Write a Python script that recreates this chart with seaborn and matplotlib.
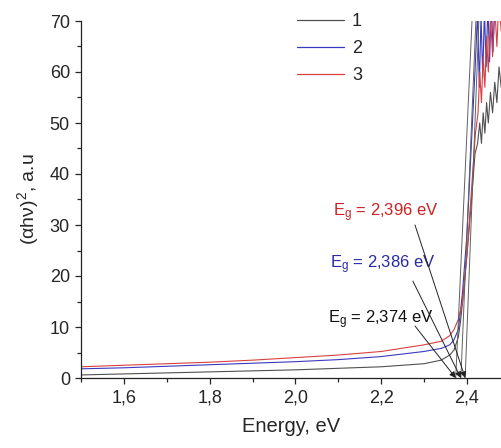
import matplotlib
matplotlib.use("Agg")
import matplotlib.pyplot as plt
import seaborn as sns
import pandas as pd
from matplotlib.ticker import MultipleLocator, FuncFormatter
from matplotlib.lines import Line2D

# ---- data ----
x1 = [1.50, 1.60, 1.70, 1.80, 1.90, 2.00, 2.10, 2.20, 2.30, 2.34, 2.36, 2.37, 2.38, 2.385, 2.39, 2.40, 2.41, 2.419,
      2.425, 2.43, 2.434, 2.438, 2.442, 2.446, 2.45, 2.455, 2.46, 2.465, 2.47, 2.475, 2.48, 2.485]
y1 = [0.6, 0.8, 1.0, 1.2, 1.4, 1.6, 1.9, 2.2, 2.8, 3.5, 4.5, 5.5, 8.0, 11.0, 15.0, 24.0, 34.0, 44.0,
      46.0, 50.0, 46.0, 52.0, 48.0, 54.0, 50.0, 56.0, 52.0, 58.0, 54.0, 61.0, 57.0, 63.0]

x2 = [1.50, 1.60, 1.70, 1.80, 1.90, 2.00, 2.10, 2.20, 2.30, 2.34, 2.36, 2.37, 2.38, 2.385, 2.39, 2.40, 2.41, 2.42,
      2.425, 2.429, 2.433, 2.437, 2.441, 2.445, 2.449, 2.453, 2.457, 2.461, 2.466]
y2 = [1.8, 2.0, 2.3, 2.6, 2.9, 3.2, 3.6, 4.2, 5.2, 5.8, 6.5, 7.5, 9.5, 13.0, 17.0, 28.0, 45.0, 62.0,
      72.0, 57.0, 71.0, 59.0, 72.0, 61.0, 73.0, 62.0, 74.0, 64.0, 75.0]

x3 = [1.50, 1.60, 1.70, 1.80, 1.90, 2.00, 2.10, 2.20, 2.30, 2.34, 2.36, 2.37, 2.38, 2.39, 2.40, 2.41, 2.42,
      2.426, 2.43, 2.434, 2.438, 2.442, 2.446, 2.45, 2.455, 2.46, 2.465, 2.47, 2.475, 2.48, 2.485]
y3 = [2.2, 2.5, 2.8, 3.1, 3.5, 4.0, 4.5, 5.2, 6.5, 7.2, 8.3, 9.5, 11.5, 15.0, 24.0, 36.0, 48.0,
      52.0, 60.0, 54.0, 63.0, 57.0, 67.0, 60.0, 71.0, 63.0, 73.0, 65.0, 75.0, 68.0, 76.0]

series_labels = ["1", "2", "3"]
colors = ["#505050", "#3a3ac0", "#d84040"]

eg_values = [2.374, 2.386, 2.396]
eg_texts = ["E$_g$ = 2,374 eV", "E$_g$ = 2,386 eV", "E$_g$ = 2,396 eV"]
eg_text_colors = ["#111111", "#2a2aa8", "#cc2222"]
eg_text_pos = [(2.076, 11.5), (2.081, 22.3), (2.088, 32.5)]
eg_arrow_from = [(2.279, 10.2), (2.274, 19.0), (2.279, 30.0)]
tangent_top_x = [2.412, 2.421, 2.428]

xticks = [1.6, 1.8, 2.0, 2.2, 2.4]
yticks = [0, 10, 20, 30, 40, 50, 60, 70]

# ---- build long-form table ----
frames = []
for lab, xs, ys in zip(series_labels, [x1, x2, x3], [y1, y2, y3]):
    frames.append(pd.DataFrame({"E": xs, "Y": ys, "s": lab}))
df = pd.concat(frames, ignore_index=True)

sns.set_style("ticks")
plt.rcParams["font.family"] = ["Liberation Sans", "DejaVu Sans"]
plt.rcParams["mathtext.default"] = "regular"

fig = plt.figure(figsize=(5.02, 4.48), dpi=100)
ax = fig.add_axes([81 / 502, 1 - 378 / 448, 1 - 81 / 502, (378 - 21) / 448])

sns.lineplot(data=df, x="E", y="Y", hue="s", palette=colors, sort=False,
             estimator=None, linewidth=0.8, ax=ax, legend=False)

# tangent lines
for eg, tx in zip(eg_values, tangent_top_x):
    ax.plot([eg, tx], [0, 70], color="#606060", linewidth=0.7, zorder=3)

# annotations
for txt, col, pos, afrom, eg in zip(eg_texts, eg_text_colors, eg_text_pos, eg_arrow_from, eg_values):
    ax.text(pos[0], pos[1], txt, color=col, fontsize=12, va="center", ha="left")
    ax.annotate("", xy=(eg, 0), xytext=afrom,
                arrowprops=dict(arrowstyle="-|>", color="#222222", lw=0.7,
                                mutation_scale=9, shrinkA=0, shrinkB=0))

ax.set_xlim(1.5, 1.5 + (502 - 81) / 428.75)
ax.set_ylim(0, 70)
ax.set_xticks(xticks)
ax.set_yticks(yticks)
ax.xaxis.set_minor_locator(MultipleLocator(0.1))
ax.yaxis.set_minor_locator(MultipleLocator(5))
ax.xaxis.set_major_formatter(FuncFormatter(lambda v, p: f"{v:.1f}".replace(".", ",")))
ax.tick_params(axis="both", which="major", labelsize=13, length=4, width=0.9, direction="out", pad=4)
ax.tick_params(axis="both", which="minor", length=3, width=0.9, direction="out")
ax.set_xlabel("Energy, eV", fontsize=14.5, labelpad=8)
ax.set_ylabel("(αhν)$^2$, a.u", fontsize=14, labelpad=6)
for side in ["top", "right"]:
    ax.spines[side].set_visible(False)
for side in ["left", "bottom"]:
    ax.spines[side].set_linewidth(0.9)
    ax.spines[side].set_color("#222222")

# legend
handles = [Line2D([], [], color=c, linewidth=0.9) for c in colors]
fig.legend(handles, series_labels, loc="upper left", bbox_to_anchor=(297 / 502, 1 - 13 / 448),
           frameon=False, fontsize=13, handlelength=2.6, handletextpad=0.45,
           labelspacing=0.55, borderpad=0, borderaxespad=0)

fig.savefig("out.png", dpi=100)
